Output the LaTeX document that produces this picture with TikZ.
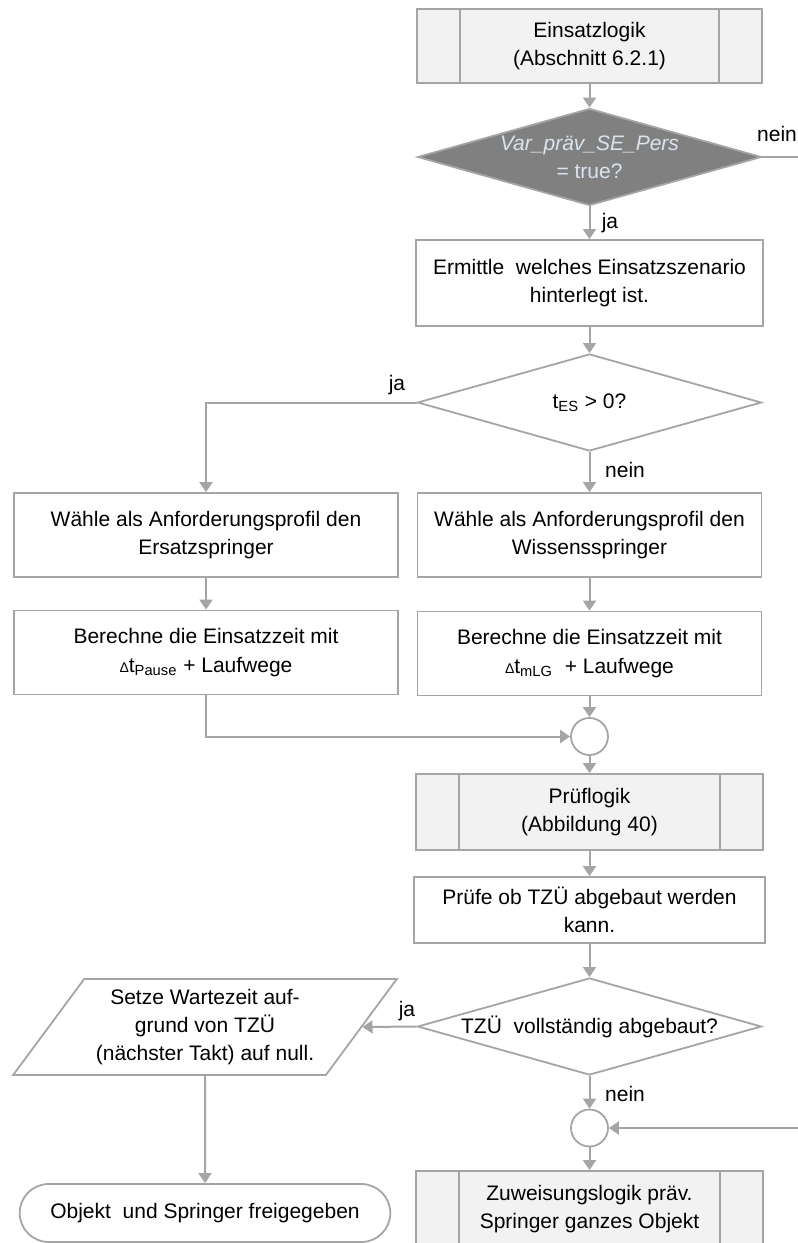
\documentclass[tikz,border=0pt]{standalone}
\usepackage{fontspec}
\setmainfont{Liberation Sans}
\usepackage{tikz}
\usetikzlibrary{arrows.meta,shapes.geometric,shapes.misc}
\definecolor{wire}{RGB}{165,165,165}
\definecolor{panel}{RGB}{242,242,242}
\definecolor{cond}{RGB}{128,128,128}
\definecolor{condtext}{RGB}{218,228,238}

\begin{document}
\begin{tikzpicture}[x=0.5pt,y=-0.5pt,>={Triangle[length=5pt,width=6.5pt]},
  font=\fontsize{10.5}{14.2}\selectfont,
  box/.style={draw=wire,line width=0.9pt,fill=white,align=center,inner sep=2pt,minimum width=172.5pt,minimum height=42pt},
  proc/.style={box,fill=panel,minimum width=173.5pt,minimum height=38pt},
  dec/.style={diamond,draw=wire,line width=0.9pt,fill=white,align=center,inner xsep=-4pt,inner ysep=-2pt,aspect=3.5,minimum width=172pt,minimum height=48.5pt},
  merge/.style={circle,draw=wire,line width=0.9pt,fill=white,minimum size=18.5pt,inner sep=0pt},
  io/.style={trapezium,trapezium left angle=50,trapezium right angle=130,trapezium stretches=true,draw=wire,line width=0.9pt,fill=white,align=center,inner sep=0pt,minimum width=192pt,minimum height=48pt},
  term/.style={rounded rectangle,draw=wire,line width=0.9pt,fill=white,align=center,minimum width=192pt,minimum height=29pt},
  lab/.style={inner sep=0pt},
  flow/.style={draw=wire,line width=1pt}]
\useasboundingbox (0,0) rectangle (798,1243);
\node[proc,minimum width=172.5pt,minimum height=37pt] (E) at (589.5,46) {Einsatzlogik\\(Abschnitt 6.2.1)};
\node[dec,fill=cond,text=condtext] (D1) at (589.5,157) {\textit{Var\_präv\_SE\_Pers}\\= true?};
\node[box,minimum width=173.5pt,minimum height=43pt] (B1) at (589.5,283) {Ermittle\ \ welches Einsatzszenario\\hinterlegt ist.};
\node[dec] (D2) at (589.5,402.5) {t\textsubscript{ES} > 0?};
\node[box,minimum width=192pt] (L1) at (206,535) {Wähle als Anforderungsprofil den\\Ersatzspringer};
\node[box,minimum width=172pt] (R1) at (589.5,535) {Wähle als Anforderungsprofil den\\Wissensspringer};
\node[box,minimum width=192pt] (L2) at (206,652.5) {Berechne die Einsatzzeit mit\\{\scriptsize Δ}t\textsubscript{Pause} + Laufwege};
\node[box,minimum width=172pt] (R2) at (589.5,653.5) {Berechne die Einsatzzeit mit\\{\scriptsize Δ}t\textsubscript{mLG}\ \ + Laufwege};
\node[merge] (M1) at (589.5,736.5) {};
\node[proc] (P) at (589.5,812) {Prüflogik\\(Abbildung 40)};
\node[box,minimum width=175.5pt,minimum height=33pt] (B2) at (589.5,910) {Prüfe ob TZÜ abgebaut werden\\kann.};
\node[dec] (D3) at (589.5,1026.5) {TZÜ\ \ vollständig abgebaut?};
\node[io] (W) at (205,1027) {Setze Wartezeit auf-\\grund von TZÜ\\(nächster Takt) auf null.};
\node[term] (T) at (205,1213) {Objekt\ \ und Springer freigegeben};
\node[merge] (M2) at (589.5,1128) {};
\node[proc] (Z) at (589.5,1209) {Zuweisungslogik präv.\\Springer ganzes Objekt};
\coordinate (X1) at (798,157);
\coordinate (X2) at (798,1128);
\node[lab] (N1) at (777,134) {nein};
\node[lab] (J1) at (610,223) {ja};
\node[lab] (J2) at (397,385) {ja};
\node[lab] (N2) at (625,470) {nein};
\node[lab] (J3) at (407,1011) {ja};
\node[lab] (N3) at (625,1094) {nein};
\foreach \p in {E,P,Z} {
  \draw[draw=wire,line width=0.9pt] ([xshift=22pt]\p.north west) -- ([xshift=22pt]\p.south west);
  \draw[draw=wire,line width=0.9pt] ([xshift=-22pt]\p.north east) -- ([xshift=-22pt]\p.south east);
}
\draw[flow,->] (E) -- (D1);
\draw[flow] (D1.east) -- (X1);
\draw[flow,->] (D1) -- (B1);
\draw[flow,->] (B1) -- (D2);
\draw[flow,->] (D2.west) -| (L1.north);
\draw[flow,->] (D2) -- (R1);
\draw[flow,->] (L1) -- (L2);
\draw[flow,->] (R1) -- (R2);
\draw[flow,->] (L2.south) |- (M1.west);
\draw[flow,->] (R2) -- (M1);
\draw[flow,->] (M1) -- (P);
\draw[flow,->] (P) -- (B2);
\draw[flow,->] (B2) -- (D3);
\draw[flow,->] (D3.west) -- (W.east);
\draw[flow,->] (W.south) -- (T.north);
\draw[flow,->] (D3) -- (M2);
\draw[flow,->] (X2) -- (M2);
\draw[flow,->] (M2) -- (Z);
\end{tikzpicture}
\end{document}
